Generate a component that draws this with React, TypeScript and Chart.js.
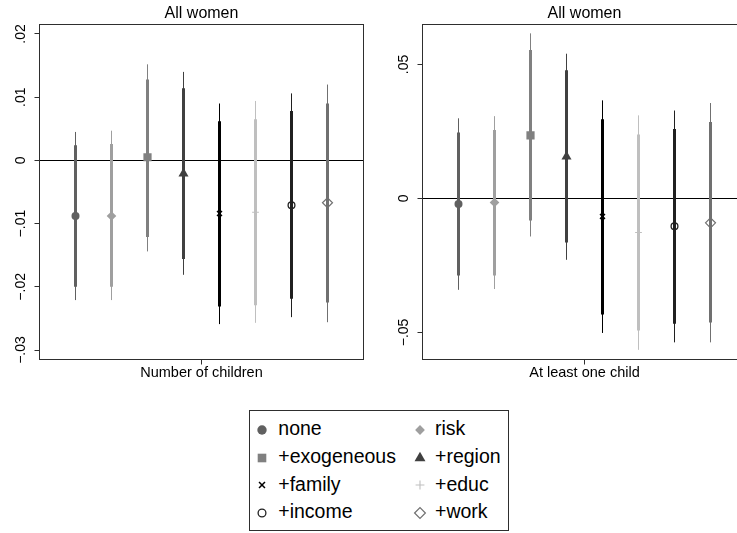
import React, { useEffect, useRef } from 'react';
import { Chart, registerables } from 'chart.js';
import { drawPoint } from 'chart.js/helpers';

Chart.register(...registerables);

const FONT = '"Liberation Sans", Arial, Helvetica, sans-serif';

// Model specifications, in legend order
const specs = ['none', 'risk', '+exogeneous', '+region', '+family', '+educ', '+income', '+work'];
const specColors = ['#606060', '#9f9f9f', '#808080', '#404040', '#000000', '#bfbfbf', '#202020', '#707070'];
const specMarkers = [
  { pointStyle: 'circle', radius: 4, legendRadius: 4.7, filled: true, borderWidth: 0 },
  { pointStyle: 'rectRot', radius: 4.8, legendRadius: 4.9, filled: true, borderWidth: 0 },
  { pointStyle: 'rect', radius: 5.8, legendRadius: 6.1, filled: true, borderWidth: 0 },
  { pointStyle: 'triangle', radius: 5.8, legendRadius: 6.3, filled: true, borderWidth: 0 },
  { pointStyle: 'crossRot', radius: 3.5, legendRadius: 4.2, filled: false, borderWidth: 1.5 },
  { pointStyle: 'cross', radius: 3.4, legendRadius: 4.4, filled: false, borderWidth: 1.1 },
  { pointStyle: 'circle', radius: 3.4, legendRadius: 3.9, filled: false, borderWidth: 1.3 },
  { pointStyle: 'rectRot', radius: 5, legendRadius: 5.4, filled: false, borderWidth: 1.2 },
];

// Number of children: point estimates with inner (thick) and outer (thin) intervals
const kidsEstimate = [-0.0088, -0.0088, 0.0005, -0.0021, -0.0084, -0.0082, -0.0071, -0.0067];
const kidsInnerLow = [-0.0200, -0.0200, -0.0121, -0.0156, -0.0231, -0.0229, -0.0219, -0.0225];
const kidsInnerHigh = [0.0024, 0.0026, 0.0128, 0.0114, 0.0062, 0.0065, 0.0078, 0.0090];
const kidsOuterLow = [-0.0221, -0.0221, -0.0144, -0.0181, -0.0259, -0.0257, -0.0248, -0.0256];
const kidsOuterHigh = [0.0045, 0.0047, 0.0152, 0.0140, 0.0090, 0.0094, 0.0106, 0.0120];
const kidsTickValues = [-0.03, -0.02, -0.01, 0, 0.01, 0.02];
const kidsTickLabels = ['\u2212.03', '\u2212.02', '\u2212.01', '0', '.01', '.02'];

// At least one child
const anyEstimate = [-0.0021, -0.0015, 0.0235, 0.0156, -0.0067, -0.0127, -0.0104, -0.0091];
const anyInnerLow = [-0.0288, -0.0288, -0.0082, -0.0164, -0.0433, -0.0493, -0.0468, -0.0463];
const anyInnerHigh = [0.0246, 0.0255, 0.0554, 0.0478, 0.0295, 0.0239, 0.0259, 0.0285];
const anyOuterLow = [-0.0341, -0.0338, -0.0142, -0.0229, -0.0502, -0.0565, -0.0537, -0.0537];
const anyOuterHigh = [0.0299, 0.0307, 0.0616, 0.0540, 0.0366, 0.0310, 0.0328, 0.0356];
const anyTickValues = [-0.05, 0, 0.05];
const anyTickLabels = ['\u2212.05', '0', '.05'];

const FRAME = '#2e2e2e';

// Frame around the plot region, panel title and rotated y tick labels
const panelDecor = {
  id: 'panelDecor',
  afterDraw(chart: any, _args: any, opts: any) {
    const { ctx, chartArea: a } = chart;
    const yScale = chart.scales.y;
    ctx.save();
    ctx.strokeStyle = FRAME;
    ctx.lineWidth = 1;
    ctx.strokeRect(a.left, a.top, a.right - a.left, a.bottom - a.top);

    ctx.fillStyle = '#000';
    ctx.font = `16px ${FONT}`;
    ctx.textAlign = 'center';
    ctx.textBaseline = 'alphabetic';
    ctx.fillText(opts.title, (a.left + a.right) / 2, 17.5);

    ctx.font = `14px ${FONT}`;
    ctx.textBaseline = 'middle';
    yScale.ticks.forEach((t: any, i: number) => {
      const py = yScale.getPixelForValue(t.value);
      ctx.save();
      ctx.translate(a.left - 18, py);
      ctx.rotate(-Math.PI / 2);
      ctx.fillText(opts.tickLabels[i], 0, 0);
      ctx.restore();
    });
    ctx.restore();
  },
};

type PanelProps = {
  left: number;
  title: string;
  xTitle: string;
  est: number[];
  innerLow: number[];
  innerHigh: number[];
  outerLow: number[];
  outerHigh: number[];
  yMin: number;
  yMax: number;
  tickValues: number[];
  tickLabels: string[];
};

function Panel(p: PanelProps) {
  const ref = useRef<HTMLCanvasElement>(null);
  useEffect(() => {
    if (!ref.current) return;
    const datasets: any[] = [];
    specs.forEach((name, i) => {
      const c = specColors[i];
      const m = specMarkers[i];
      datasets.push({
        label: name + ' outer',
        data: [{ x: i + 1, y: p.outerLow[i] }, { x: i + 1, y: p.outerHigh[i] }],
        showLine: true,
        borderColor: c,
        borderWidth: 1,
        pointRadius: 0,
        order: 3,
      });
      datasets.push({
        label: name + ' inner',
        data: [{ x: i + 1, y: p.innerLow[i] }, { x: i + 1, y: p.innerHigh[i] }],
        showLine: true,
        borderColor: c,
        borderWidth: 3,
        pointRadius: 0,
        order: 2,
      });
      datasets.push({
        label: name,
        data: [{ x: i + 1, y: p.est[i] }],
        pointStyle: m.pointStyle,
        pointRadius: m.radius,
        pointBackgroundColor: m.filled ? c : 'rgba(0,0,0,0)',
        pointBorderColor: c,
        pointBorderWidth: m.borderWidth,
        order: 1,
      });
    });

    const chart = new Chart(ref.current, {
      type: 'scatter',
      data: { datasets },
      options: {
        responsive: false,
        animation: false,
        events: [],
        layout: { padding: { left: 0.5, right: 6.5, top: 24.5, bottom: 0 } },
        plugins: {
          legend: { display: false },
          tooltip: { enabled: false },
          panelDecor: { title: p.title, tickLabels: p.tickLabels },
        } as any,
        scales: {
          x: {
            type: 'linear',
            min: 0,
            max: 9,
            afterBuildTicks: (s: any) => {
              s.ticks = [{ value: 4.5 }];
            },
            afterFit: (s: any) => {
              s.height = 30.5;
            },
            ticks: { display: false },
            border: { display: false },
            grid: {
              drawOnChartArea: false,
              drawTicks: true,
              tickLength: 5,
              color: FRAME,
              tickColor: FRAME,
            },
            title: {
              display: true,
              text: p.xTitle,
              color: '#000',
              font: { family: FONT, size: 14.5 },
              padding: { top: 0, bottom: 8.8 },
            },
          },
          y: {
            type: 'linear',
            min: p.yMin,
            max: p.yMax,
            afterBuildTicks: (s: any) => {
              s.ticks = p.tickValues.map((v) => ({ value: v }));
            },
            afterFit: (s: any) => {
              s.width = 39;
            },
            ticks: { display: false },
            border: { display: false },
            grid: {
              drawTicks: true,
              tickLength: 5,
              tickColor: FRAME,
              lineWidth: 1,
              color: (ctx: any) => (ctx.tick && ctx.tick.value === 0 ? '#000' : 'rgba(0,0,0,0)'),
            },
          },
        },
      },
      plugins: [panelDecor],
    } as any);
    return () => chart.destroy();
  }, []);
  return (
    <canvas
      ref={ref}
      width={370}
      height={390}
      style={{ position: 'absolute', left: p.left, top: 0, width: 370, height: 390 }}
    />
  );
}

function Swatch({ idx, x, y }: { idx: number; x: number; y: number }) {
  const ref = useRef<HTMLCanvasElement>(null);
  useEffect(() => {
    const cv = ref.current;
    if (!cv) return;
    const ctx = cv.getContext('2d');
    if (!ctx) return;
    ctx.clearRect(0, 0, 20, 20);
    const m = specMarkers[idx];
    const c = specColors[idx];
    ctx.fillStyle = m.filled ? c : 'rgba(0,0,0,0)';
    ctx.strokeStyle = c;
    ctx.lineWidth = m.borderWidth;
    drawPoint(ctx, { pointStyle: m.pointStyle as any, radius: m.legendRadius, borderWidth: m.borderWidth, rotation: 0 } as any, 10, 10);
  }, []);
  return (
    <canvas
      ref={ref}
      width={20}
      height={20}
      style={{ position: 'absolute', left: x - 10, top: y - 10, width: 20, height: 20 }}
    />
  );
}

function Legend() {
  const colSymbolX = [261.7, 420];
  const colTextX = [278.3, 435];
  const rowY = [430, 457.7, 485.3, 513];
  return (
    <>
      <div
        style={{
          position: 'absolute',
          left: 249,
          top: 410,
          width: 260,
          height: 121,
          boxSizing: 'border-box',
          border: `1px solid ${FRAME}`,
        }}
      />
      {specs.map((name, i) => {
        const col = i % 2;
        const row = Math.floor(i / 2);
        return (
          <React.Fragment key={name}>
            <Swatch idx={i} x={colSymbolX[col]} y={rowY[row]} />
            <div
              style={{
                position: 'absolute',
                left: colTextX[col],
                top: rowY[row] - 11.6,
                height: 20,
                lineHeight: '20px',
                fontFamily: FONT,
                fontSize: 19.5,
                color: '#000',
                whiteSpace: 'nowrap',
              }}
            >
              {name}
            </div>
          </React.Fragment>
        );
      })}
    </>
  );
}

export default function App() {
  return (
    <div
      style={{
        position: 'absolute',
        left: 0,
        top: 0,
        width: 737,
        height: 533,
        overflow: 'hidden',
        background: '#fff',
      }}
    >
      <Panel
        left={0}
        title="All women"
        xTitle="Number of children"
        est={kidsEstimate}
        innerLow={kidsInnerLow}
        innerHigh={kidsInnerHigh}
        outerLow={kidsOuterLow}
        outerHigh={kidsOuterHigh}
        yMin={-0.0315}
        yMax={0.0215}
        tickValues={kidsTickValues}
        tickLabels={kidsTickLabels}
      />
      <Panel
        left={383}
        title="All women"
        xTitle="At least one child"
        est={anyEstimate}
        innerLow={anyInnerLow}
        innerHigh={anyInnerHigh}
        outerLow={anyOuterLow}
        outerHigh={anyOuterHigh}
        yMin={-0.0601}
        yMax={0.0649}
        tickValues={anyTickValues}
        tickLabels={anyTickLabels}
      />
      <Legend />
    </div>
  );
}
